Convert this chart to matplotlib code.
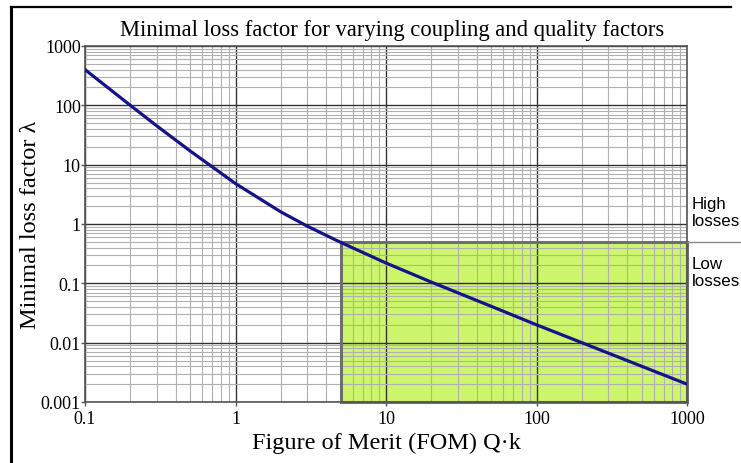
import numpy as np
import matplotlib as mpl
mpl.use('Agg')
from matplotlib import pyplot as plt
from matplotlib.lines import Line2D
from matplotlib.patches import Rectangle
from matplotlib import transforms

# values
fom = [0.1, 0.2, 0.3, 0.5, 1, 2, 3, 5, 10, 20, 50, 100, 200, 500, 1000]
loss = [400, 100, 45, 17, 4.8, 1.6, 0.92, 0.49, 0.22, 0.105, 0.041, 0.02, 0.01, 0.004, 0.002]

# low-loss zone (FOM above 5)
zone_fom = [5, 1000]
zone_loss = [0.001, 0.5]

x_ticks = [0.1, 1, 10, 100, 1000]
x_labels = ['0.1', '1', '10', '100', '1000']
y_ticks = [0.001, 0.01, 0.1, 1, 10, 100, 1000]
y_labels = ['0.001', '0.01', '0.1', '1', '10', '100', '1000']

W, H, DPI = 741, 464, 100

fig = plt.figure(figsize=(W / DPI, H / DPI), dpi=DPI, facecolor='w')
ax = fig.add_axes([85 / W, 1 - 403 / H, 602 / W, 356 / H])
serif = 'Liberation Serif'

ax.set_xscale('log')
ax.set_yscale('log')
ax.set_xlim(x_ticks[0], x_ticks[-1])
ax.set_ylim(y_ticks[0], y_ticks[-1])

# green zone, fill under the grid and border above it
ax.add_patch(Rectangle((zone_fom[0], zone_loss[0]), zone_fom[1] - zone_fom[0],
                       zone_loss[1] - zone_loss[0], facecolor='#cdf66c',
                       edgecolor='none', zorder=0.2))
ax.add_patch(Rectangle((zone_fom[0], zone_loss[0]), zone_fom[1] - zone_fom[0],
                       zone_loss[1] - zone_loss[0], facecolor='none',
                       edgecolor='#6e6e6e', lw=2.2, zorder=2.5, clip_on=False))

ax.set_axisbelow(True)
ax.grid(True, which='major', color='#333333', lw=1.0)
ax.grid(True, which='minor', color='#b0b0b0', lw=0.8)

ax.plot(fom, loss, color='#14148a', lw=2.3, zorder=3, solid_capstyle='round')

ax.set_xticks(x_ticks)
ax.set_xticklabels(x_labels, fontfamily=serif, fontsize=13)
ax.set_yticks(y_ticks)
ax.set_yticklabels(y_labels, fontfamily=serif, fontsize=13)
ax.tick_params(which='major', length=3, width=1, color='#555555')
ax.tick_params(axis='x', pad=3)
ax.tick_params(axis='y', pad=0)
ax.tick_params(which='minor', length=0)
for s in ax.spines.values():
    s.set_color('#555555')
    s.set_linewidth(1.2)

ax.set_title('Minimal loss factor for varying coupling and quality factors',
             fontfamily=serif, fontsize=16.3, pad=8, x=0.51)
ax.set_xlabel('Figure of Merit (FOM) Q\u00b7k', fontfamily=serif, fontsize=17.5, labelpad=3)
ax.set_ylabel('Minimal loss factor \u03bb', fontfamily=serif, fontsize=17.5, labelpad=0)

# separator between high and low losses, outside the axes
trans = transforms.blended_transform_factory(fig.transFigure, ax.transData)
fig.add_artist(Line2D([687 / W, 1.0], [zone_loss[1], zone_loss[1]], transform=trans,
                      color='#8a8a8a', lw=1.0))
fig.text(692 / W, 1 - 213 / H, 'High\nlosses', fontfamily='Liberation Sans',
         fontsize=12.2, va='center', ha='left', linespacing=1.2)
fig.text(692 / W, 1 - 273 / H, 'Low\nlosses', fontfamily='Liberation Sans',
         fontsize=12.2, va='center', ha='left', linespacing=1.2)

# outer frame (only left and top edges survive in the picture)
fig.add_artist(Line2D([11 / W, 11 / W], [0, 1 - 8 / H], color='k', lw=2.2))
fig.add_artist(Line2D([11 / W, 731 / W], [1 - 8 / H, 1 - 8 / H], color='k', lw=1.6))

fig.savefig('out.png', dpi=DPI)
